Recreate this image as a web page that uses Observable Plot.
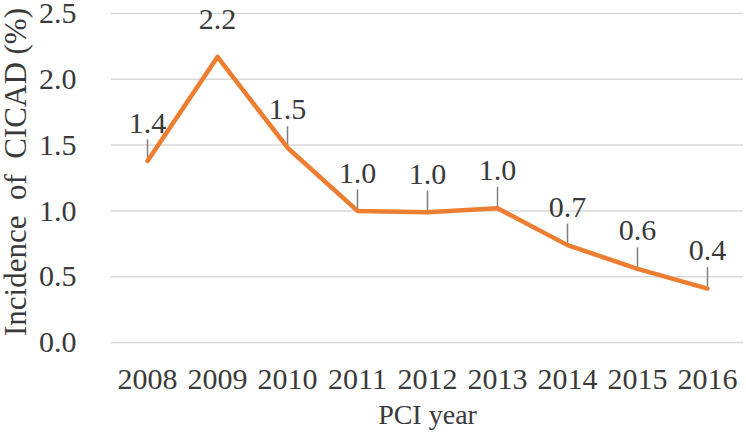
<!DOCTYPE html>
<html>
<head>
<meta charset="utf-8">
<script src="https://cdn.jsdelivr.net/npm/d3@7"></script>
<script src="https://cdn.jsdelivr.net/npm/@observablehq/plot@0.6"></script>
<style>
  html, body { margin: 0; padding: 0; background: #fff; }
  #chart svg { display: block; }
  #chart svg, #chart svg text { font-family: "Liberation Serif", "Times New Roman", serif; }
</style>
</head>
<body>
<div id="chart"></div>
<script>
const years = ["2008","2009","2010","2011","2012","2013","2014","2015","2016"];
const incidence = [1.38, 2.17, 1.48, 1.00, 0.99, 1.02, 0.74, 0.56, 0.41];
const yTicks = [0, 0.5, 1.0, 1.5, 2.0, 2.5];
const yTitle = "Incidence  of  CICAD (%)";
const xTitle = "PCI year";

const data = years.map((y, i) => ({year: y, v: incidence[i]}));
const maxV = d3.max(incidence);
const textColor = "#3a3a3a";
const font = "Liberation Serif";

const chart = Plot.plot({
  width: 746,
  height: 440,
  marginLeft: 111,
  marginRight: 3,
  marginTop: 13,
  marginBottom: 98,
  style: {fontFamily: font, fontSize: "30px", color: textColor, background: "#fff"},
  x: {type: "point", domain: years, padding: 0.5},
  y: {domain: [0, 2.5]},
  marks: [
    Plot.gridY(yTicks, {stroke: "#d9d9d9", strokeOpacity: 1, strokeWidth: 1.5}),
    Plot.axisY(yTicks, {tickSize: 0, tickPadding: 35, tickFormat: d3.format(".1f"), label: null, fill: textColor, fontSize: 30, fontFamily: font}),
    Plot.axisX({tickSize: 0, tickPadding: 25, label: null, fill: textColor, fontSize: 30, fontFamily: font}),
    Plot.ruleX(data.filter(d => d.v < maxV), {x: "year", y1: "v", y2: "v", insetTop: -21, stroke: "#808080", strokeWidth: 1.5}),
    Plot.line(data, {x: "year", y: "v", stroke: "#ED7D31", strokeWidth: 4.5, strokeLinejoin: "round", strokeLinecap: "round"}),
    Plot.text(data, {x: "year", y: "v", text: d => d3.format(".1f")(d.v), dy: -38, lineAnchor: "middle", fill: textColor, fontSize: 30, fontFamily: font}),
    Plot.text([yTitle], {text: d => d, frameAnchor: "left", textAnchor: "middle", lineAnchor: "middle", dx: -95, dy: -6, rotate: -90, fill: textColor, fontSize: 31, fontFamily: font, style: "white-space: pre"}),
    Plot.text([xTitle], {text: d => d, frameAnchor: "bottom", textAnchor: "middle", lineAnchor: "middle", dy: 73, fill: textColor, fontSize: 28, fontFamily: font})
  ]
});
document.getElementById("chart").appendChild(chart);
</script>
</body>
</html>
